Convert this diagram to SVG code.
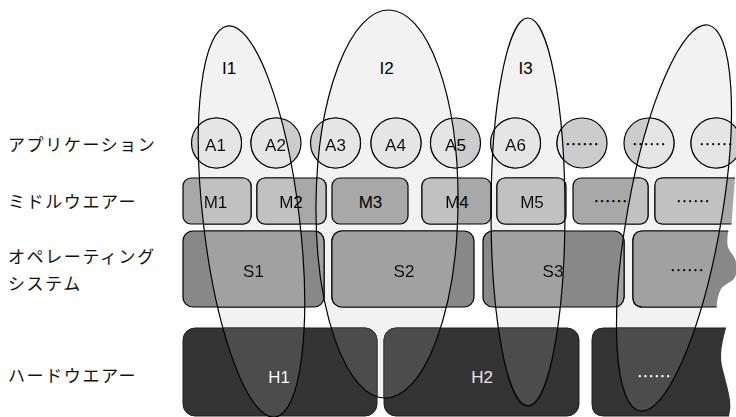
<svg xmlns="http://www.w3.org/2000/svg" xmlns:xlink="http://www.w3.org/1999/xlink" width="736" height="417" viewBox="0 0 736 417">
  <style>
    .lab{font-family:"Liberation Sans",Arial,sans-serif;font-size:17px;text-anchor:middle;fill:#000}
    .dots{font-family:"Noto Sans CJK JP",sans-serif;font-size:17px;text-anchor:middle;fill:#000}
    .light{fill:#e6e6e6}
    .row{font-family:"Noto Sans CJK JP","Liberation Sans",sans-serif;font-size:17px;letter-spacing:1.6px;fill:#111}
    .app{fill:#ccc;stroke:#000;stroke-width:1.2}
    .mid{fill:#a8a8a8;stroke:#000;stroke-width:1.2}
    .os{fill:#888;stroke:#000;stroke-width:1.2}
    .hw{fill:#333;stroke:#1e1e1e;stroke-width:1}
    .torn{stroke:none}
    .edge{fill:none;stroke:#000;stroke-width:1.2}
    .edge-hw{fill:none;stroke:#1e1e1e;stroke-width:1}
    .bubble-fill{fill:#f2f2f2}
    .bubble-line{fill:none;stroke:#000;stroke-width:1.2}
  </style>
  <defs>
    <!-- interface bubbles, shared by fill, clip and outline -->
    <ellipse id="e1" cx="251.5" cy="221.5" rx="48" ry="197" transform="rotate(-6.85 251.5 221.5)"/>
    <ellipse id="e2" cx="387" cy="204" rx="71" ry="194" transform="rotate(0.6 387 204)"/>
    <ellipse id="e3" cx="528" cy="212" rx="37" ry="194"/>
    <ellipse id="e4" cx="674" cy="218" rx="47" ry="196" transform="rotate(10 674 218)"/>
    <clipPath id="in-bubbles" clipPathUnits="userSpaceOnUse">
      <use xlink:href="#e1"/>
      <use xlink:href="#e2"/>
      <use xlink:href="#e3"/>
      <use xlink:href="#e4"/>
    </clipPath>
    <!-- brightens everything seen through a bubble, keeps black lines black -->
    <filter id="lift" filterUnits="userSpaceOnUse" x="0" y="0" width="736" height="417" color-interpolation-filters="sRGB">
      <feComponentTransfer>
        <feFuncR type="table" tableValues="0 0.2 0.3 0.4 0.5 0.6 0.7 0.8 0.9 1 1"/>
        <feFuncG type="table" tableValues="0 0.2 0.3 0.4 0.5 0.6 0.7 0.8 0.9 1 1"/>
        <feFuncB type="table" tableValues="0 0.2 0.3 0.4 0.5 0.6 0.7 0.8 0.9 1 1"/>
      </feComponentTransfer>
    </filter>
  </defs>

  <!-- row captions -->
  <g id="row-labels">
    <text class="row" x="8" y="151">アプリケーション</text>
    <text class="row" x="8" y="208">ミドルウエアー</text>
    <text class="row" x="8" y="263">オペレーティング</text>
    <text class="row" x="8" y="290">システム</text>
    <text class="row" x="8" y="382">ハードウエアー</text>
  </g>

  <!-- bubble backgrounds -->
  <g id="I1"><use xlink:href="#e1" class="bubble-fill"/><text class="lab" x="229" y="74">I1</text></g>
  <g id="I2"><use xlink:href="#e2" class="bubble-fill"/><text class="lab" x="386.5" y="74">I2</text></g>
  <g id="I3"><use xlink:href="#e3" class="bubble-fill"/><text class="lab" x="525.5" y="74">I3</text></g>
  <g id="I4"><use xlink:href="#e4" class="bubble-fill"/></g>

  <g id="layers">
    <!-- applications -->
    <g id="A1"><circle class="app" cx="216.5" cy="143" r="25"/><text class="lab" x="215.5" y="151">A1</text></g>
    <g id="A2"><circle class="app" cx="276" cy="143" r="25"/><text class="lab" x="275.5" y="151">A2</text></g>
    <g id="A3"><circle class="app" cx="335.5" cy="143" r="25"/><text class="lab" x="335.5" y="151">A3</text></g>
    <g id="A4"><circle class="app" cx="396" cy="143" r="25"/><text class="lab" x="395.5" y="151">A4</text></g>
    <g id="A5"><circle class="app" cx="455.5" cy="143" r="25"/><text class="lab" x="455.5" y="151">A5</text></g>
    <g id="A6"><circle class="app" cx="515.5" cy="143" r="25"/><text class="lab" x="515.5" y="151">A6</text></g>
    <g id="A7"><circle class="app" cx="582" cy="143" r="25"/><text class="dots" x="582" y="151">……</text></g>
    <g id="A8"><circle class="app" cx="649" cy="143" r="25"/><text class="dots" x="649" y="151">……</text></g>
    <g id="A9"><circle class="app" cx="716" cy="143" r="25"/><text class="dots" x="716" y="151">……</text></g>

    <!-- middleware -->
    <g id="M1"><rect class="mid" x="183" y="178" width="68" height="46" rx="8"/><text class="lab" x="215.5" y="208">M1</text></g>
    <g id="M2"><rect class="mid" x="257" y="178" width="69" height="46" rx="8"/><text class="lab" x="291" y="208">M2</text></g>
    <g id="M4"><rect class="mid" x="422" y="178" width="69" height="46" rx="8"/><text class="lab" x="457" y="208">M4</text></g>
    <g id="M5"><rect class="mid" x="497" y="178" width="69" height="46" rx="8"/><text class="lab" x="532" y="208">M5</text></g>
    <g id="M6"><rect class="mid" x="573" y="178" width="75" height="46" rx="8"/><text class="dots" x="610.5" y="208">……</text></g>
    <g id="M7">
      <path class="mid torn" d="M735 178 H663 Q655 178 655 186 V216 Q655 224 663 224 H731.5 Z"/>
      <path class="edge" d="M735 178 H663 Q655 178 655 186 V216 Q655 224 663 224 H731.5"/>
      <text class="dots" x="693" y="208">……</text>
    </g>

    <!-- operating systems -->
    <g id="S1"><rect class="os" x="183" y="231" width="141" height="76" rx="10"/><text class="lab" x="253.5" y="277">S1</text></g>
    <g id="S2"><rect class="os" x="332" y="231" width="142" height="76" rx="10"/><text class="lab" x="404" y="277">S2</text></g>
    <g id="S3"><rect class="os" x="483" y="231" width="141" height="76" rx="10"/><text class="lab" x="553" y="277">S3</text></g>
    <g id="S4">
      <path class="os torn" d="M728.3 231 H643 Q633 231 633 241 V297 Q633 307 643 307 H716.7 C717 300 718 295 721 289 C724 284 731 283 734.5 278 C737.5 273 737.5 263 734 257 C731 252 727.5 249 727.3 243 C727.2 238 727.8 234 728.3 231 Z"/>
      <path class="edge" d="M728.3 231 H643 Q633 231 633 241 V297 Q633 307 643 307 H716.7"/>
      <text class="dots" x="687" y="277">……</text>
    </g>

    <!-- hardware -->
    <g id="H1"><rect class="hw" x="183" y="328" width="194" height="88" rx="12"/><text class="lab light" x="279" y="383">H1</text></g>
    <g id="H2"><rect class="hw" x="384" y="328" width="195" height="88" rx="12"/><text class="lab light" x="482" y="383">H2</text></g>
    <g id="H3">
      <path class="hw torn" d="M726 328 H604 Q592 328 592 340 V404 Q592 416 604 416 H729 C730.5 410 730.5 405 730 400 C729 392 726 382 723.5 372 C721 364 720.5 356 721.5 349 C722.5 341 724.5 334 726 328 Z"/>
      <path class="edge-hw" d="M726 328 H604 Q592 328 592 340 V404 Q592 416 604 416 H729"/>
      <text class="dots light" x="654" y="383">……</text>
    </g>
  </g>

  <!-- the part of each layer that lies inside a bubble, drawn brighter -->
  <use xlink:href="#layers" clip-path="url(#in-bubbles)" filter="url(#lift)"/>

  <g id="M3"><rect class="mid" x="332" y="178" width="76" height="46" rx="8"/><text class="lab" x="370.5" y="208">M3</text></g>

  <!-- bubble outlines over everything -->
  <g id="bubble-outlines">
    <use xlink:href="#e1" class="bubble-line"/>
    <use xlink:href="#e2" class="bubble-line"/>
    <use xlink:href="#e3" class="bubble-line"/>
    <use xlink:href="#e4" class="bubble-line"/>
  </g>
</svg>
